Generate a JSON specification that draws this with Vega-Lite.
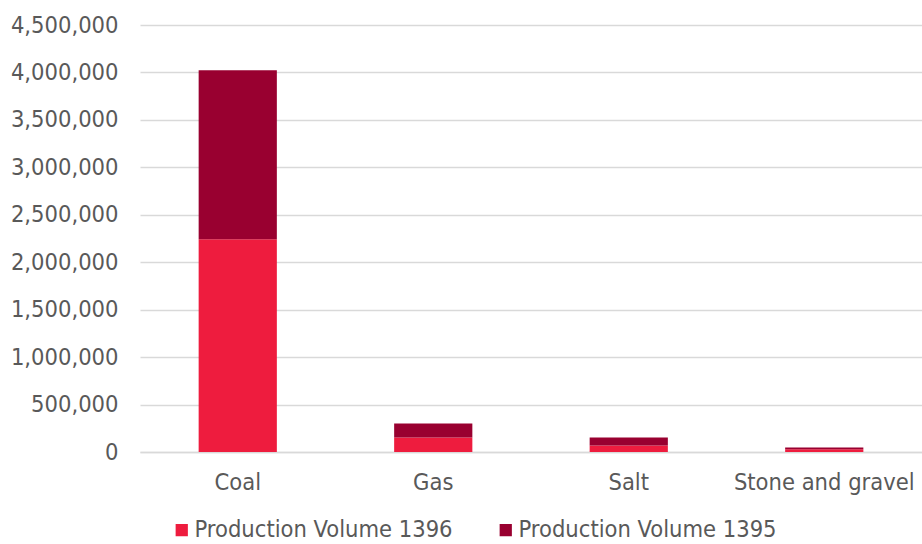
{
  "$schema": "https://vega.github.io/schema/vega-lite/v6.json",
  "width": 782,
  "height": 427,
  "autosize": {"type": "none"},
  "padding": {"left": 140, "top": 25, "right": 0, "bottom": 92},
  "background": "white",
  "config": {
    "view": {"stroke": null},
    "font": "DejaVu Sans Condensed",
    "axis": {"labelFont": "DejaVu Sans Condensed", "labelColor": "#595959", "labelFontSize": 23.5},
    "legend": {"labelFont": "DejaVu Sans Condensed", "labelColor": "#595959", "labelFontSize": 23.5}
  },
  "data": {
    "values": [
      {"mineral": "Coal", "series": "Production Volume 1396", "value": 2241000},
      {"mineral": "Coal", "series": "Production Volume 1395", "value": 1783000},
      {"mineral": "Gas", "series": "Production Volume 1396", "value": 153000},
      {"mineral": "Gas", "series": "Production Volume 1395", "value": 148000},
      {"mineral": "Salt", "series": "Production Volume 1396", "value": 68500},
      {"mineral": "Salt", "series": "Production Volume 1395", "value": 84500},
      {"mineral": "Stone and gravel", "series": "Production Volume 1396", "value": 30000},
      {"mineral": "Stone and gravel", "series": "Production Volume 1395", "value": 17500}
    ]
  },
  "mark": {"type": "bar"},
  "encoding": {
    "x": {
      "field": "mineral",
      "type": "nominal",
      "sort": ["Coal", "Gas", "Salt", "Stone and gravel"],
      "scale": {"paddingInner": 0.6, "paddingOuter": 0.3},
      "axis": {"title": null, "labelAngle": 0, "ticks": false, "labelPadding": 18, "labelLimit": 400, "domainColor": "#D9D9D9", "domainWidth": 1.5, "grid": false}
    },
    "y": {
      "field": "value",
      "type": "quantitative",
      "stack": "zero",
      "scale": {"domain": [0, 4500000], "nice": false},
      "axis": {"title": null, "values": [0, 500000, 1000000, 1500000, 2000000, 2500000, 3000000, 3500000, 4000000, 4500000], "format": ",d", "domain": false, "ticks": false, "labelPadding": 22, "gridColor": "#D9D9D9", "gridWidth": 1.5}
    },
    "color": {
      "field": "series",
      "type": "nominal",
      "scale": {"domain": ["Production Volume 1396", "Production Volume 1395"], "range": ["#EE1C3E", "#990030"]},
      "legend": {"title": null, "orient": "none", "legendX": 30, "legendY": 493, "direction": "horizontal", "symbolType": "square", "symbolSize": 150, "symbolStrokeWidth": 0, "columnPadding": 41, "labelLimit": 400, "labelOffset": 1}
    },
    "order": {"field": "series", "sort": "descending"}
  }
}
